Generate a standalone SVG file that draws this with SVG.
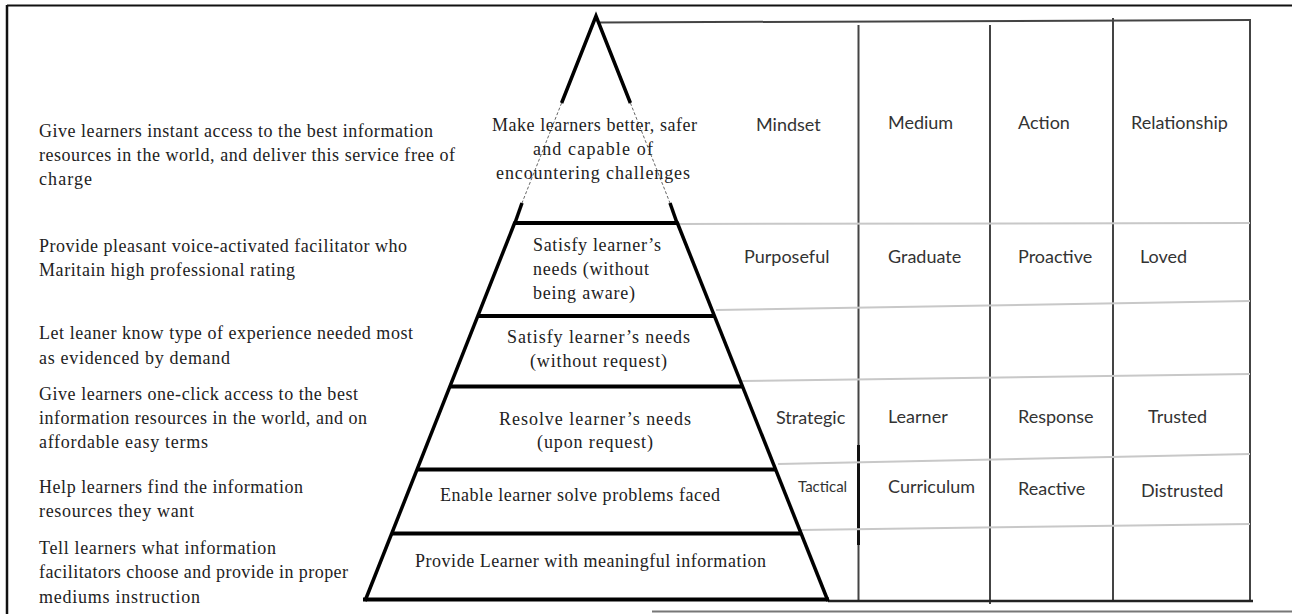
<svg xmlns="http://www.w3.org/2000/svg" width="1292" height="614" viewBox="0 0 1292 614">
<style>
.lt{font-family:"Liberation Serif","Times New Roman",serif;font-size:18px;fill:#222}
.pt{font-family:"Liberation Serif","Times New Roman",serif;font-size:18px;fill:#222}
.tt{font-family:Lato,"Liberation Sans",sans-serif;font-size:18px;fill:#333}
.thick{stroke:#000;stroke-width:4;fill:none;stroke-linecap:butt}
.side{stroke:#000;stroke-width:3.5;fill:none}
.dash{stroke:#666;stroke-width:1;stroke-dasharray:3 2;fill:none}
.col{stroke:#444;stroke-width:2;fill:none}
.row{stroke:#c8c8c8;stroke-width:2;fill:none}
</style>
<rect width="1292" height="614" fill="#fff"/>
<g id="frame">
<line x1="7" y1="5.5" x2="1292" y2="5.5" stroke="#111" stroke-width="2"/>
<line x1="7" y1="5" x2="7" y2="614" stroke="#111" stroke-width="2.5"/>
<line x1="652" y1="611.5" x2="1292" y2="611.5" stroke="#777" stroke-width="2"/>
</g>
<g id="connectors">
<!-- table grid -->
<line class="col" x1="600" y1="22.5" x2="1250" y2="20"/>
<line class="col" x1="1250" y1="19" x2="1250" y2="602"/>
<line class="col" x1="858.5" y1="25" x2="858.5" y2="601"/>
<line x1="858.5" y1="445" x2="858.5" y2="545" stroke="#111" stroke-width="3"/>
<line class="col" x1="990" y1="25" x2="990" y2="604"/>
<line class="col" x1="1113" y1="18" x2="1113" y2="601"/>
<line class="row" x1="679" y1="224" x2="1250" y2="223"/>
<line class="row" x1="716" y1="310" x2="1250" y2="301"/>
<line class="row" x1="742" y1="381" x2="1250" y2="374"/>
<line class="row" x1="778" y1="464" x2="1250" y2="454"/>
<line class="row" x1="800" y1="530" x2="1250" y2="524"/>
<line x1="828" y1="601" x2="1253" y2="601" stroke="#222" stroke-width="2.5"/>
</g>
<g id="pyramid-sides">
<polyline class="side" points="561.6,103 596,16 630.4,103" stroke-linejoin="miter"/>
<line class="dash" x1="561.6" y1="103" x2="522" y2="203"/>
<line class="dash" x1="630.4" y1="103" x2="670" y2="203"/>
<line class="side" x1="522" y1="203" x2="514.6" y2="224"/>
<line class="side" x1="670" y1="203" x2="677.4" y2="224"/>
<line class="side" x1="515" y1="222" x2="365" y2="601"/>
<line class="side" x1="677" y1="222" x2="828" y2="601"/>
</g>
<g id="level1">
<line class="thick" x1="515" y1="223" x2="678" y2="223"/>
<text class="pt" x="492" y="131" textLength="205">Make learners better, safer</text>
<text class="pt" x="533" y="155" textLength="120">and capable of</text>
<text class="pt" x="496" y="179" textLength="194">encountering challenges</text>
</g>
<g id="level2">
<line class="thick" x1="478" y1="316" x2="715" y2="316"/>
<text class="pt" x="533" y="251" textLength="128">Satisfy learner’s</text>
<text class="pt" x="533" y="275" textLength="116">needs (without</text>
<text class="pt" x="533" y="299" textLength="102">being aware)</text>
</g>
<g id="level3">
<line class="thick" x="0" x1="450" y1="386.5" x2="742" y2="386.5"/>
<text class="pt" x="507" y="343" textLength="183">Satisfy learner’s needs</text>
<text class="pt" x="530" y="367" textLength="137">(without request)</text>
</g>
<g id="level4">
<line class="thick" x1="418" y1="469.5" x2="775" y2="469.5"/>
<text class="pt" x="499" y="425" textLength="192">Resolve learner’s needs</text>
<text class="pt" x="537" y="448" textLength="116">(upon request)</text>
</g>
<g id="level5">
<line class="thick" x1="392" y1="533.5" x2="800" y2="533.5"/>
<text class="pt" x="440" y="501" textLength="280">Enable learner solve problems faced</text>
</g>
<g id="level6">
<line class="thick" x1="363" y1="599.5" x2="829" y2="599.5"/>
<text class="pt" x="415" y="567" textLength="351">Provide Learner with meaningful information</text>
</g>
<g id="left-1">
<text class="lt" x="39" y="137" textLength="394">Give learners instant access to the best information</text>
<text class="lt" x="39" y="161" textLength="416">resources in the world, and deliver this service free of</text>
<text class="lt" x="39" y="185" textLength="53">charge</text>
</g>
<g id="left-2">
<text class="lt" x="39" y="252" textLength="368">Provide pleasant voice-activated facilitator who</text>
<text class="lt" x="39" y="276" textLength="256">Maritain high professional rating</text>
</g>
<g id="left-3">
<text class="lt" x="39" y="339" textLength="374">Let leaner know type of experience needed most</text>
<text class="lt" x="39" y="364" textLength="191">as evidenced by demand</text>
</g>
<g id="left-4">
<text class="lt" x="39" y="400" textLength="319">Give learners one-click access to the best</text>
<text class="lt" x="39" y="424" textLength="328">information resources in the world, and on</text>
<text class="lt" x="39" y="448" textLength="169">affordable easy terms</text>
</g>
<g id="left-5">
<text class="lt" x="39" y="493" textLength="264">Help learners find the information</text>
<text class="lt" x="39" y="517" textLength="155">resources they want</text>
</g>
<g id="left-6">
<text class="lt" x="39" y="554" textLength="237">Tell learners what information</text>
<text class="lt" x="39" y="578" textLength="309">facilitators choose and provide in proper</text>
<text class="lt" x="39" y="603" textLength="161">mediums instruction</text>
</g>
<g id="table-header">
<text class="tt" x="756" y="131">Mindset</text>
<text class="tt" x="888" y="129">Medium</text>
<text class="tt" x="1018" y="129">Action</text>
<text class="tt" x="1131" y="129">Relationship</text>
</g>
<g id="table-row-purposeful">
<text class="tt" x="744" y="263">Purposeful</text>
<text class="tt" x="888" y="263">Graduate</text>
<text class="tt" x="1018" y="263">Proactive</text>
<text class="tt" x="1140" y="263">Loved</text>
</g>
<g id="table-row-strategic">
<text class="tt" x="776" y="424">Strategic</text>
<text class="tt" x="888" y="423">Learner</text>
<text class="tt" x="1018" y="423">Response</text>
<text class="tt" x="1148" y="423">Trusted</text>
</g>
<g id="table-row-tactical">
<text class="tt" x="798" y="492" style="font-size:15px">Tactical</text>
<text class="tt" x="888" y="493">Curriculum</text>
<text class="tt" x="1018" y="495">Reactive</text>
<text class="tt" x="1141" y="497">Distrusted</text>
</g>
</svg>
